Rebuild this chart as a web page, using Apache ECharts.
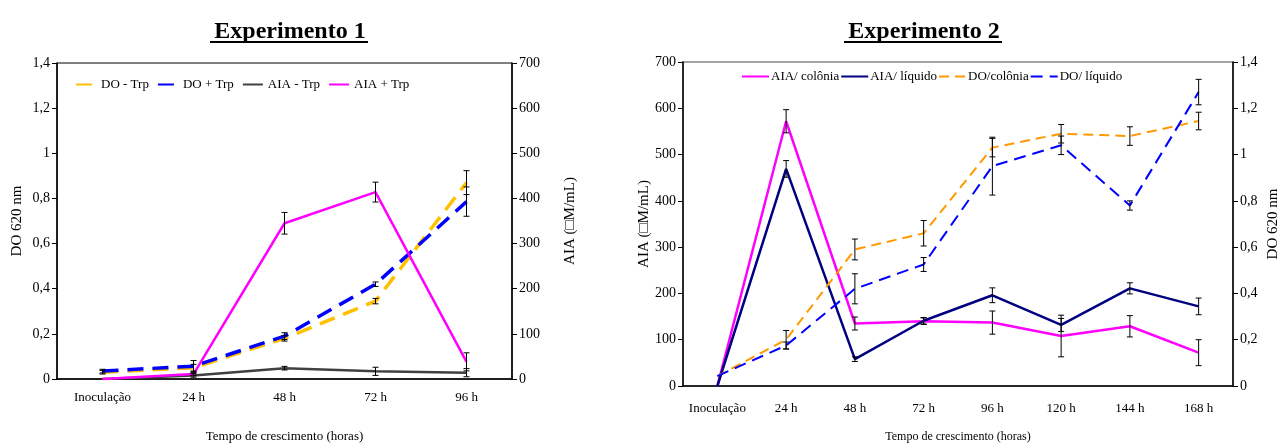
<!DOCTYPE html>
<html>
<head>
<meta charset="utf-8">
<script src="https://cdn.jsdelivr.net/npm/echarts@6/dist/echarts.min.js"></script>
<style>
  html, body { margin: 0; padding: 0; background: #fff; }
  #chart { width: 1282px; height: 448px; }
</style>
</head>
<body>
<div id="chart"></div>
<script>
// Experimento 1
const cats1 = ['Inoculação', '24 h', '48 h', '72 h', '96 h']
const doSemTrp = [0.03, 0.05, 0.18, 0.345, 0.87]
const doSemTrpErr = [0.008, 0.015, 0.012, 0.012, 0.053]
const doComTrp = [0.035, 0.057, 0.19, 0.42, 0.786]
const doComTrpErr = [0.008, 0.025, 0.015, 0.01, 0.065]
const aiaSemTrp = [0, 8, 24, 17, 14]
const aiaSemTrpErr = [null, 4, 4, 9, 9]
const aiaComTrp = [0, 11, 345, 414, 38]
const aiaComTrpErr = [null, 3, 24, 22, 20]

// Experimento 2
const cats2 = ['Inoculação', '24 h', '48 h', '72 h', '96 h', '120 h', '144 h', '168 h']
const aiaColonia = [0, 572, 135, 140, 137, 108, 129, 72]
const aiaColoniaErr = [null, 25, 14, 7, 25, 45, 23, 28]
const aiaLiquido = [0, 469, 58, 141, 196, 132, 211, 172]
const aiaLiquidoErr = [null, 18, 5, 7, 16, 14, 12, 18]
const doColonia = [0.043, 0.2, 0.59, 0.66, 1.03, 1.09, 1.08, 1.145]
const doColoniaErr = [null, 0.04, 0.045, 0.055, 0.04, 0.04, 0.04, 0.038]
const doLiquido = [0.043, 0.175, 0.42, 0.525, 0.95, 1.04, 0.78, 1.27]
const doLiquidoErr = [null, 0.015, 0.065, 0.03, 0.125, 0.04, 0.02, 0.055]

const doTicks = [0, 1.4, 0.2]
const aiaTicks = [0, 700, 100]

const serif = 'Liberation Serif'

function virgula(v) {
  return String(Math.round(v * 10) / 10).replace('.', ',')
}

function errorBars(xi, yi, values, errs) {
  let data = []
  values.forEach((v, i) => {
    if (errs[i] != null) data.push([i, v - errs[i], v + errs[i]])
  })
  return {
    type: 'custom',
    xAxisIndex: xi,
    yAxisIndex: yi,
    silent: true,
    z: 5,
    data: data,
    renderItem(params, api) {
      const lo = api.coord([api.value(0), api.value(1)])
      const hi = api.coord([api.value(0), api.value(2)])
      const c = 3
      const st = { stroke: '#000', lineWidth: 1 }
      return {
        type: 'group',
        children: [
          { type: 'line', shape: { x1: lo[0], y1: lo[1], x2: hi[0], y2: hi[1] }, style: st },
          { type: 'line', shape: { x1: lo[0] - c, y1: lo[1], x2: lo[0] + c, y2: lo[1] }, style: st },
          { type: 'line', shape: { x1: hi[0] - c, y1: hi[1], x2: hi[0] + c, y2: hi[1] }, style: st }
        ]
      }
    }
  }
}

function valueAxis(range, pos, gridIndex, name, nameGap, fmt) {
  return {
    type: 'value',
    gridIndex: gridIndex,
    position: pos,
    min: range[0],
    max: range[1],
    interval: range[2],
    name: name,
    nameLocation: 'middle',
    nameGap: nameGap,
    nameTextStyle: { fontFamily: serif, fontSize: 15, color: '#000' },
    axisLine: { show: true, lineStyle: { color: '#000', width: 1.5 } },
    axisTick: { show: true, length: 5, lineStyle: { color: '#000' } },
    axisLabel: { fontFamily: serif, fontSize: 14, color: '#000', margin: 7, formatter: fmt },
    splitLine: { show: false }
  }
}

function catAxis(cats, gridIndex, nameSize, nameGap, labelMargin) {
  return {
    type: 'category',
    gridIndex: gridIndex,
    data: cats,
    boundaryGap: true,
    name: 'Tempo de crescimento (horas)',
    nameLocation: 'middle',
    nameGap: nameGap,
    nameTextStyle: { fontFamily: serif, fontSize: nameSize, color: '#000' },
    axisLine: { lineStyle: { color: '#000', width: 1.5 } },
    axisTick: { length: 5, lineStyle: { color: '#000' } },
    axisLabel: { fontFamily: serif, fontSize: 13, color: '#000', margin: labelMargin, interval: 0 }
  }
}

const chart = echarts.init(document.getElementById('chart'))

const option = {
  animation: false,
  title: [
    { text: 'Experimento 1', left: 285, top: 15, textAlign: 'center',
      textStyle: { fontFamily: serif, fontSize: 24, fontWeight: 'bold', color: '#000' } },
    { text: 'Experimento 2', left: 919, top: 15, textAlign: 'center',
      textStyle: { fontFamily: serif, fontSize: 24, fontWeight: 'bold', color: '#000' } }
  ],
  graphic: [
    { type: 'line', shape: { x1: 210, y1: 42, x2: 368, y2: 42 }, style: { stroke: '#000', lineWidth: 2 } },
    { type: 'line', shape: { x1: 844, y1: 42, x2: 1002, y2: 42 }, style: { stroke: '#000', lineWidth: 2 } }
  ],
  legend: [
    {
      left: 70, top: 73, itemWidth: 20, itemHeight: 10, itemGap: 8,
      itemStyle: { opacity: 0 },
      textStyle: { fontFamily: serif, fontSize: 13, color: '#000', padding: [0, 0, 0, 0] },
      data: ['DO - Trp', 'DO + Trp', 'AIA - Trp', 'AIA + Trp']
    },
    {
      left: 736, top: 65, itemWidth: 27, itemHeight: 10, itemGap: 1,
      itemStyle: { opacity: 0 },
      textStyle: { fontFamily: serif, fontSize: 13, color: '#000', padding: [0, 0, 0, -3] },
      data: ['AIA/ colônia', 'AIA/ líquido', 'DO/colônia', 'DO/ líquido']
    }
  ],
  grid: [
    { left: 57, right: 770, top: 63, bottom: 67, show: true, borderColor: '#000', borderWidth: 1 },
    { left: 683, right: 48, top: 62, bottom: 58, show: true, borderColor: '#888', borderWidth: 1.5 }
  ],
  xAxis: [
    catAxis(cats1, 0, 13, 51, 12),
    catAxis(cats2, 1, 12, 45, 16)
  ],
  yAxis: [
    valueAxis(doTicks, 'left', 0, 'DO 620 nm', 32, virgula),
    valueAxis(aiaTicks, 'right', 0, 'AIA (□M/mL)', 51, null),
    valueAxis(aiaTicks, 'left', 1, 'AIA (□M/mL)', 28, null),
    valueAxis(doTicks, 'right', 1, 'DO 620 nm', 33, virgula)
  ],
  series: [
    { name: 'DO - Trp', type: 'line', xAxisIndex: 0, yAxisIndex: 0, data: doSemTrp, symbol: 'none',
      lineStyle: { color: '#FFC000', width: 3.5, type: [16, 9] }, itemStyle: { color: '#FFC000' } },
    { name: 'DO + Trp', type: 'line', xAxisIndex: 0, yAxisIndex: 0, data: doComTrp, symbol: 'none',
      lineStyle: { color: '#0000FF', width: 3.5, type: [16, 9] }, itemStyle: { color: '#0000FF' } },
    { name: 'AIA - Trp', type: 'line', xAxisIndex: 0, yAxisIndex: 1, data: aiaSemTrp, symbol: 'none',
      lineStyle: { color: '#404040', width: 2.5 }, itemStyle: { color: '#404040' } },
    { name: 'AIA + Trp', type: 'line', xAxisIndex: 0, yAxisIndex: 1, data: aiaComTrp, symbol: 'none',
      lineStyle: { color: '#FF00FF', width: 2.5 }, itemStyle: { color: '#FF00FF' } },
    errorBars(0, 0, doSemTrp, doSemTrpErr),
    errorBars(0, 0, doComTrp, doComTrpErr),
    errorBars(0, 1, aiaSemTrp, aiaSemTrpErr),
    errorBars(0, 1, aiaComTrp, aiaComTrpErr),

    { name: 'AIA/ colônia', type: 'line', xAxisIndex: 1, yAxisIndex: 2, data: aiaColonia, symbol: 'none',
      lineStyle: { color: '#FF00FF', width: 2.5 }, itemStyle: { color: '#FF00FF' } },
    { name: 'AIA/ líquido', type: 'line', xAxisIndex: 1, yAxisIndex: 2, data: aiaLiquido, symbol: 'none',
      lineStyle: { color: '#000080', width: 2.5 }, itemStyle: { color: '#000080' } },
    { name: 'DO/colônia', type: 'line', xAxisIndex: 1, yAxisIndex: 3, data: doColonia, symbol: 'none',
      lineStyle: { color: '#FF9900', width: 2, type: [10, 6] }, itemStyle: { color: '#FF9900' } },
    { name: 'DO/ líquido', type: 'line', xAxisIndex: 1, yAxisIndex: 3, data: doLiquido, symbol: 'none',
      lineStyle: { color: '#0000FF', width: 2, type: [12, 7] }, itemStyle: { color: '#0000FF' } },
    errorBars(1, 2, aiaColonia, aiaColoniaErr),
    errorBars(1, 2, aiaLiquido, aiaLiquidoErr),
    errorBars(1, 3, doColonia, doColoniaErr),
    errorBars(1, 3, doLiquido, doLiquidoErr)
  ]
}

chart.setOption(option)
</script>
</body>
</html>
